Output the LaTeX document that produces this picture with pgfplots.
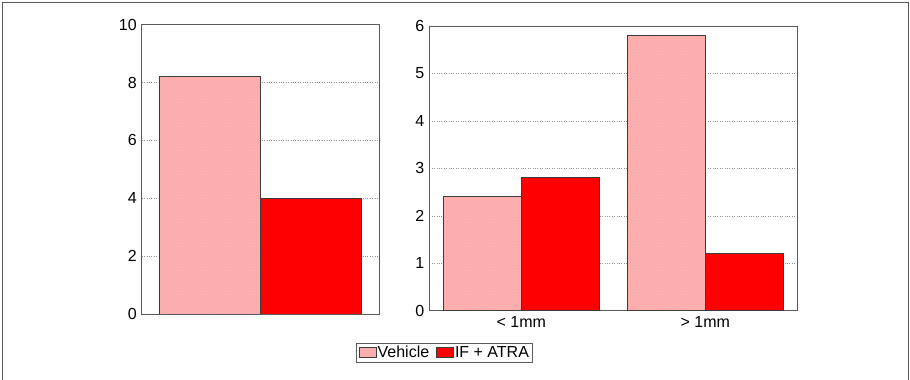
\documentclass[border=0pt]{standalone}
\usepackage{pgfplots}
\pgfplotsset{compat=1.18}
\usetikzlibrary{patterns}
\usepackage{fontspec}
\setmainfont{Liberation Sans}

\definecolor{vehfill}{RGB}{255,178,178}
\definecolor{vehhatch}{RGB}{250,166,166}
\definecolor{atrafill}{RGB}{255,0,0}
\definecolor{framegray}{RGB}{90,90,90}
\definecolor{edgegray}{RGB}{60,60,60}

\pgfplotsset{
  panel/.style={
    scale only axis,
    anchor=south west,
    ybar=0pt,
    bar width=0.425,
    ymin=0,
    axis line style={draw=framegray, line width=0.9pt},
    major tick length=0pt,
    ymajorgrids,
    major grid style={dotted, gray!85, line width=0.5pt},
    /pgf/number format/assume math mode=true,
    tick label style={font=\fontsize{16}{19}\selectfont},
    yticklabel style={xshift=-1.5pt},
    xticklabel style={yshift=-2pt},
    legend image code/.code={\draw[#1] (0pt,-5pt) rectangle (17pt,5pt);},
  },
  vehicle/.style={draw=edgegray, line width=0.8pt, fill=vehfill,
    postaction={pattern=north east lines, pattern color=vehhatch}},
  atra/.style={draw=edgegray, line width=0.8pt, fill=atrafill},
}

\begin{document}
\begin{tikzpicture}[x=1pt,y=1pt]
\path[use as bounding box] (0,0) rectangle (910,380);
% outer frame (open at the bottom)
\draw[framegray, line width=1.5pt] (2.5,0) -- (2.5,377.5) -- (908.5,377.5) -- (908.5,0);

% left panel: overall
\begin{axis}[panel,
  at={(141.7pt,66pt)}, width=237.3pt, height=289.3pt,
  xmin=-0.5, xmax=0.5, xtick=\empty,
  ymax=10, ytick={0,2,4,6,8,10}]
\addplot[vehicle] coordinates {(0,8.2)};
\addplot[atra] coordinates {(0,4.0)};
\end{axis}

% right panel: by size
\begin{axis}[panel,
  at={(429.3pt,69.3pt)}, width=368pt, height=284.7pt,
  xmin=-0.5, xmax=1.5, xtick={0,1}, xticklabels={{< 1mm},{> 1mm}},
  ymax=6, ytick={0,1,2,3,4,5,6},
  legend columns=2,
  legend style={at={(0.041,-0.147)}, anchor=center,
    draw=framegray, line width=0.9pt, inner sep=2pt,
    font=\fontsize{16}{19}\selectfont,
    nodes={inner sep=1pt},
    /tikz/every even column/.append style={column sep=6pt}},
  legend cell align=left]
\addplot[vehicle] coordinates {(0,2.4) (1,5.8)};
\addplot[atra] coordinates {(0,2.8) (1,1.2)};
\legend{Vehicle, IF + ATRA}
\end{axis}
\end{tikzpicture}
\end{document}
